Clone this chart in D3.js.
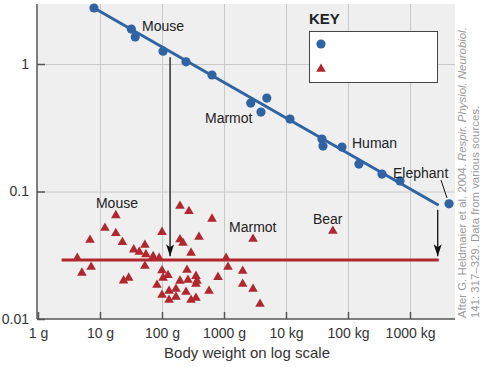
<html>

<head>
  <title>Metabolic rate vs body weight</title>
  <script src="https://d3js.org/d3.v7.min.js"></script>
  <style>
    body { margin: 0; background: white; }
    text { font-family: 'Liberation Sans', Arial, sans-serif; }
    /* light grid lines, no domain path */
    .gridlines line { stroke: #c8c8c8; stroke-width: 1; }
    .gridlines .domain { stroke: none; }
    .axis .domain { stroke: none; }
    .axis line { stroke: #555; stroke-width: 1.5; }
    .axis text { font-size: 14px; fill: #333; }
    .label { font-size: 14px; fill: #222; }
  </style>
</head>

<body>
  <svg id="chart" height="367" width="481"></svg>

  <script>
    // --- data (mass in g, rate on the y scale)
    const xTickValues = [1, 10, 100, 1000, 1e4, 1e5, 1e6];
    const xTickLabels = ['1 g', '10 g', '100 g', '1000 g', '10 kg', '100 kg', '1000 kg'];
    const yTickValues = [0.01, 0.1, 1];
    const yTickLabels = ['0.01', '0.1', '1'];

    // blue circles
    const basalMass = [8, 32, 37, 104, 244, 640, 2700, 3950, 4900, 11600, 38000, 39500, 80000, 150000, 353000, 690000, 4.26e6];
    const basalRate = [2.75, 1.88, 1.63, 1.26, 1.04, 0.82, 0.494, 0.42, 0.54, 0.37, 0.258, 0.227, 0.223, 0.164, 0.137, 0.121, 0.080];

    // red triangles
    const torporMass = [4.3, 5.1, 7.2, 6.9, 12, 18, 18, 23, 35, 43, 53, 55, 53, 24, 29, 72, 90, 100, 100, 104,
      125, 83, 100, 130, 130, 168, 168, 195, 253, 262, 244, 294, 353, 353, 367, 353, 573, 800, 195, 272,
      640, 195, 218, 395, 294, 1080, 1160, 2000, 2000, 2940, 3810, 2940, 57000];
    const torporRate = [0.030, 0.023, 0.0256, 0.0417, 0.0517, 0.065, 0.047, 0.040, 0.035, 0.0335, 0.038, 0.032, 0.026, 0.020, 0.021, 0.031, 0.030, 0.048, 0.024, 0.021,
      0.022, 0.0185, 0.0154, 0.0166, 0.0141, 0.0149, 0.0172, 0.0199, 0.0242, 0.0202, 0.0163, 0.0141, 0.0146, 0.0217, 0.0199, 0.0188, 0.0166, 0.0213, 0.077, 0.070,
      0.061, 0.042, 0.0395, 0.044, 0.033, 0.030, 0.0256, 0.0238, 0.0188, 0.0172, 0.0131, 0.0424, 0.049];

    // fitted lines
    const basalFitMass = [8, 2.9e6];
    const basalFitRate = [2.75, 0.078];
    const torporLineMass = [2.4, 2.9e6];
    const torporLineRate = [0.029, 0.029];

    // arrows from the blue line down to the red line
    const arrowMass = [135, 2.8e6];
    const arrowFromRate = [1.13, 0.072];
    const arrowToRate = [0.031, 0.031];

    // animal labels
    const labelNames = ['Mouse', 'Marmot', 'Human', 'Elephant', 'Mouse', 'Marmot', 'Bear'];
    const labelMass = [47.6, 494, 116000, 532000, 8.6, 1205, 27200];
    const labelRate = [1.81, 0.344, 0.219, 0.128, 0.0743, 0.0481, 0.0556];

    // leader line for the elephant
    const leaderMass = [3.16e6, 3.95e6];
    const leaderRate = [0.123, 0.089];


    // 0. svg + scales
    const svg = d3.select('svg#chart');
    const panel = { left: 37, right: 455, top: 4, bottom: 319 };

    const xScale = d3.scaleLog().domain([1, 1e6]).range([38, 410]);
    const yScale = d3.scaleLog().domain([0.01, 1]).range([319, 64]);

    const blue = '#2f63a2';
    const red = '#b0272d';

    // 1. grey plot area
    svg.append('rect')
      .attr('x', panel.left)
      .attr('y', panel.top)
      .attr('width', panel.right - panel.left)
      .attr('height', panel.bottom - panel.top)
      .attr('fill', '#efefef');

    // 2. gridlines
    svg.append('g')
      .attr('class', 'gridlines')
      .attr('transform', `translate(0,${panel.bottom})`)
      .call(d3.axisBottom(xScale).tickValues(xTickValues.slice(1)).tickFormat('')
        .tickSize(-(panel.bottom - panel.top)).tickSizeOuter(0));

    svg.append('g')
      .attr('class', 'gridlines')
      .attr('transform', `translate(${panel.left},0)`)
      .call(d3.axisLeft(yScale).tickValues([0.1, 1]).tickFormat('')
        .tickSize(-(panel.right - panel.left)).tickSizeOuter(0));

    // 3. axes, ticks point inward
    svg.append('g')
      .attr('class', 'x axis')
      .attr('transform', `translate(0,${panel.bottom})`)
      .call(d3.axisBottom(xScale).tickValues(xTickValues)
        .tickFormat((d, i) => xTickLabels[i])
        .tickSize(-7).tickSizeOuter(0).tickPadding(9));

    svg.append('g')
      .attr('class', 'y axis')
      .attr('transform', `translate(${panel.left},0)`)
      .call(d3.axisLeft(yScale).tickValues(yTickValues)
        .tickFormat((d, i) => yTickLabels[i])
        .tickSize(-8).tickSizeOuter(0).tickPadding(8));

    svg.append('line')
      .attr('x1', panel.left).attr('x2', panel.right)
      .attr('y1', panel.bottom).attr('y2', panel.bottom)
      .attr('stroke', '#555').attr('stroke-width', 1.5);
    svg.append('line')
      .attr('x1', panel.left).attr('x2', panel.left)
      .attr('y1', panel.top).attr('y2', panel.bottom)
      .attr('stroke', '#555').attr('stroke-width', 1.5);

    svg.append('text')
      .attr('x', 247)
      .attr('y', 358)
      .attr('text-anchor', 'middle')
      .attr('font-size', 15)
      .attr('fill', '#333')
      .text('Body weight on log scale');

    // 4. lines
    const line = d3.line()
      .x(d => xScale(d[0]))
      .y(d => yScale(d[1]));

    svg.append('path')
      .datum(d3.zip(basalFitMass, basalFitRate))
      .attr('d', line)
      .attr('stroke', blue)
      .attr('stroke-width', 3)
      .attr('fill', 'none');

    svg.append('path')
      .datum(d3.zip(torporLineMass, torporLineRate))
      .attr('d', line)
      .attr('stroke', red)
      .attr('stroke-width', 3)
      .attr('fill', 'none');

    // 5. arrows
    svg.append('defs').append('marker')
      .attr('id', 'head')
      .attr('viewBox', '0 0 12 8')
      .attr('refX', 12)
      .attr('refY', 4)
      .attr('markerWidth', 12)
      .attr('markerHeight', 8)
      .attr('markerUnits', 'userSpaceOnUse')
      .attr('orient', 'auto')
      .append('path')
      .attr('d', 'M0,0 L12,4 L0,8 L3,4 Z')
      .attr('fill', '#111');

    arrowMass.forEach((m, i) => {
      svg.append('line')
        .attr('x1', xScale(m)).attr('x2', xScale(m))
        .attr('y1', yScale(arrowFromRate[i])).attr('y2', yScale(arrowToRate[i]))
        .attr('stroke', '#111')
        .attr('stroke-width', 1.3)
        .attr('marker-end', 'url(#head)');
    });

    svg.append('line')
      .attr('x1', xScale(leaderMass[0])).attr('x2', xScale(leaderMass[1]))
      .attr('y1', yScale(leaderRate[0])).attr('y2', yScale(leaderRate[1]))
      .attr('stroke', '#111')
      .attr('stroke-width', 1);

    // 6. points
    basalMass.forEach((m, i) => {
      svg.append('circle')
        .attr('cx', xScale(m))
        .attr('cy', yScale(basalRate[i]))
        .attr('r', 4.6)
        .attr('fill', blue);
    });

    const tri = d3.symbol().type(d3.symbolTriangle).size(40);
    torporMass.forEach((m, i) => {
      svg.append('path')
        .attr('d', tri)
        .attr('transform', `translate(${xScale(m)},${yScale(torporRate[i])})`)
        .attr('fill', red);
    });

    // 7. animal names
    labelNames.forEach((name, i) => {
      svg.append('text')
        .attr('class', 'label')
        .attr('x', xScale(labelMass[i]))
        .attr('y', yScale(labelRate[i]))
        .text(name);
    });

    // 8. key box (no series text in it)
    svg.append('text')
      .attr('x', 309)
      .attr('y', 24)
      .attr('font-size', 15)
      .attr('font-weight', 'bold')
      .attr('fill', '#222')
      .text('KEY');

    svg.append('rect')
      .attr('x', 309.5).attr('y', 31.5)
      .attr('width', 128).attr('height', 51)
      .attr('fill', 'white')
      .attr('stroke', '#444')
      .attr('stroke-width', 1);

    svg.append('circle')
      .attr('cx', 321).attr('cy', 44)
      .attr('r', 4.6)
      .attr('fill', blue);

    svg.append('path')
      .attr('d', tri)
      .attr('transform', 'translate(321,69)')
      .attr('fill', red);

    // 9. source note, rotated
    const note = svg.append('text')
      .attr('transform', 'translate(466,318) rotate(-90)')
      .attr('font-size', 11.4)
      .attr('fill', '#999');
    note.append('tspan').text('After G. Heldmaier et al. 2004. ');
    note.append('tspan').attr('font-style', 'italic').text('Respir. Physiol. Neurobiol.');

    svg.append('text')
      .attr('transform', 'translate(479,318) rotate(-90)')
      .attr('font-size', 11.4)
      .attr('fill', '#999')
      .text('141: 317–329. Data from various sources.');
  </script>
</body>

</html>
